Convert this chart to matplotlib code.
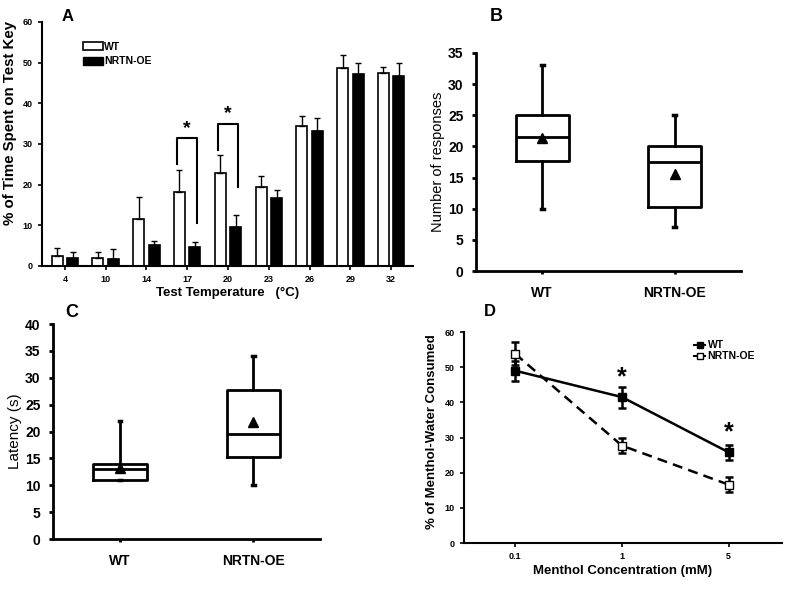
"""Four-panel figure: temperature preference, response counts, latency and menthol intake."""

import matplotlib

matplotlib.use("Agg")
import matplotlib.pyplot as plt
import numpy as np
from matplotlib.lines import Line2D
from matplotlib.patches import Patch

plt.rcParams["font.family"] = ["Liberation Sans", "DejaVu Sans"]

# Panel A: time spent on test key
temps = ["4", "10", "14", "17", "20", "23", "26", "29", "32"]
wt_time = [2.5, 2.0, 11.5, 18.2, 22.9, 19.4, 34.4, 48.8, 47.4]
wt_time_err = [1.9, 1.5, 5.5, 5.3, 4.3, 2.8, 2.6, 3.2, 1.6]
oe_time = [1.9, 1.6, 5.1, 4.6, 9.5, 16.8, 33.3, 47.3, 46.6]
oe_time_err = [1.5, 2.5, 1.0, 1.2, 3.0, 2.0, 3.0, 2.7, 3.4]
sig_groups = [3, 4]
sig_left = [25.0, 28.5]
sig_top = [31.4, 35.0]
sig_right = [10.6, 19.4]

# Panels B and C: box summaries
groups = ["WT", "NRTN-OE"]
resp_low = [10, 7]
resp_q1 = [17.7, 10.2]
resp_med = [21.5, 17.5]
resp_q3 = [25, 20]
resp_high = [33, 25]
resp_mean = [21.4, 15.5]

lat_low = [11, 10]
lat_q1 = [11, 15.2]
lat_med = [13, 19.5]
lat_q3 = [14, 27.8]
lat_high = [22, 34]
lat_mean = [13.3, 21.7]

# Panel D: menthol water
conc = ["0.1", "1", "5"]
wt_menthol = [49.0, 41.5, 25.8]
wt_menthol_err = [2.8, 3.0, 2.2]
oe_menthol = [53.8, 27.7, 16.6]
oe_menthol_err = [3.3, 2.2, 2.2]
menthol_sig = [1, 2]
menthol_sig_y = [47.0, 31.5]


def style_axis(ax, lw):
    for side in ("top", "right"):
        ax.spines[side].set_visible(False)
    for side in ("left", "bottom"):
        ax.spines[side].set_linewidth(lw)
        ax.spines[side].set_color("black")


def box_panel(ax, low, q1, med, q3, high, mean, ylabel, ymax, label_size):
    stats = []
    for i, name in enumerate(groups):
        stats.append({"whislo": low[i], "q1": q1[i], "med": med[i], "q3": q3[i],
                      "whishi": high[i], "label": name})
    lw = 2.0
    ax.bxp(stats, positions=[1, 2], widths=0.4, showfliers=False, capwidths=0.02,
           boxprops={"linewidth": lw}, medianprops={"linewidth": lw, "color": "black"},
           whiskerprops={"linewidth": lw}, capprops={"linewidth": 2.5})
    ax.plot([1, 2], mean, linestyle="none", marker="^", color="black", markersize=7)
    ax.set_xlim(0.5, 2.5)
    ax.set_ylim(0, ymax)
    ax.set_yticks(np.arange(0, ymax + 1, 5))
    style_axis(ax, lw)
    ax.tick_params(axis="y", labelsize=10, width=lw, length=3, pad=6)
    ax.tick_params(axis="x", labelsize=10, width=lw, length=2, pad=9)
    for lab in ax.get_xticklabels() + ax.get_yticklabels():
        lab.set_fontweight("bold")
    ax.set_ylabel(ylabel, fontsize=label_size, labelpad=2)


fig = plt.figure(figsize=(8, 5.96), dpi=100)

# ---- A ----
ax_a = fig.add_axes([0.0525, 0.5537, 0.464, 0.4094])
x = np.arange(len(temps))
bw = 0.27
off = 0.19
ax_a.bar(x - off, wt_time, bw, color="white", edgecolor="black", linewidth=1.2)
ax_a.bar(x + off, oe_time, bw, color="black", edgecolor="black", linewidth=1.2)
ax_a.errorbar(x - off, wt_time, yerr=[np.zeros(len(x)), wt_time_err], fmt="none",
              ecolor="black", elinewidth=1.0, capsize=2.5, capthick=1.0)
ax_a.errorbar(x + off, oe_time, yerr=[np.zeros(len(x)), oe_time_err], fmt="none",
              ecolor="black", elinewidth=1.0, capsize=2.5, capthick=1.0)
for g, yl, yt, yr in zip(sig_groups, sig_left, sig_top, sig_right):
    ax_a.plot([g - 0.24, g - 0.24, g + 0.24, g + 0.24], [yl, yt, yt, yr],
              color="black", linewidth=1.5)
    ax_a.text(g, yt + 0.3, "*", ha="center", va="bottom", fontsize=14, fontweight="bold")
ax_a.set_xlim(-0.56, 8.54)
ax_a.set_ylim(0, 60)
ax_a.set_yticks(np.arange(0, 61, 10))
ax_a.set_xticks(x)
ax_a.set_xticklabels(temps)
style_axis(ax_a, 1.5)
ax_a.tick_params(labelsize=6.5, width=1.2, length=3)
for lab in ax_a.get_xticklabels() + ax_a.get_yticklabels():
    lab.set_fontweight("bold")
ax_a.set_xlabel("Test Temperature   (°C)", fontsize=9.5, fontweight="bold", labelpad=2)
ax_a.set_ylabel("% of Time Spent on Test Key", fontsize=10.8, fontweight="bold")
ax_a.yaxis.set_label_coords(-0.068, 0.585)
ax_a.legend(handles=[Patch(facecolor="white", edgecolor="black", linewidth=1.2, label="WT"),
                     Patch(facecolor="black", edgecolor="black", label="NRTN-OE")],
            loc="upper left", bbox_to_anchor=(0.098, 0.935), frameon=False,
            prop={"size": 7.5, "weight": "bold"}, handlelength=2.0, handleheight=0.8,
            handletextpad=0.1, labelspacing=0.4, borderaxespad=0)
fig.text(0.084, 0.972, "A", fontsize=12, fontweight="bold", va="center", ha="center")

# ---- B ----
ax_b = fig.add_axes([0.595, 0.5453, 0.331, 0.3658])
box_panel(ax_b, resp_low, resp_q1, resp_med, resp_q3, resp_high, resp_mean,
          "Number of responses", 35, 10.5)
fig.text(0.62, 0.972, "B", fontsize=13, fontweight="bold", va="center", ha="center")

# ---- C ----
ax_c = fig.add_axes([0.0663, 0.0956, 0.334, 0.3607])
box_panel(ax_c, lat_low, lat_q1, lat_med, lat_q3, lat_high, lat_mean, "Latency (s)", 40, 11)
fig.text(0.09, 0.475, "C", fontsize=13, fontweight="bold", va="center", ha="center")

# ---- D ----
ax_d = fig.add_axes([0.58, 0.0889, 0.3975, 0.354])
xd = np.arange(len(conc))
ax_d.errorbar(xd, wt_menthol, yerr=wt_menthol_err, color="black", linewidth=1.8,
              marker="s", markersize=6, markerfacecolor="black", capsize=3,
              elinewidth=1.8, capthick=1.8)
ax_d.errorbar(xd, oe_menthol, yerr=oe_menthol_err, color="black", linewidth=1.8,
              linestyle=(0, (4, 2.5)), marker="s", markersize=6, markerfacecolor="white",
              capsize=3, elinewidth=1.8, capthick=1.8)
for g, yy in zip(menthol_sig, menthol_sig_y):
    ax_d.text(g, yy, "*", ha="center", va="center", fontsize=18, fontweight="bold")
ax_d.set_xlim(-0.48, 2.5)
ax_d.set_ylim(0, 60)
ax_d.set_yticks(np.arange(0, 61, 10))
ax_d.set_xticks(xd)
ax_d.set_xticklabels(conc)
style_axis(ax_d, 1.5)
ax_d.tick_params(labelsize=6.5, width=1.2, length=3)
for lab in ax_d.get_xticklabels() + ax_d.get_yticklabels():
    lab.set_fontweight("bold")
ax_d.set_xlabel("Menthol Concentration (mM)", fontsize=9.5, fontweight="bold", labelpad=3)
ax_d.set_ylabel("% of Menthol-Water Consumed", fontsize=9.5, fontweight="bold")
ax_d.yaxis.set_label_coords(-0.083, 0.53)
handles_d = [
    Line2D([], [], color="black", linewidth=1.5, marker="s", markersize=5,
           markerfacecolor="black", label="WT"),
    Line2D([], [], color="black", linewidth=1.5, marker="s", markersize=5,
           markerfacecolor="white", label="NRTN-OE"),
]
ax_d.legend(handles=handles_d, loc="upper left", bbox_to_anchor=(0.71, 0.98),
            frameon=False, prop={"size": 7.5, "weight": "bold"}, handlelength=1.1,
            handletextpad=0.2, labelspacing=0.1, borderaxespad=0)
fig.text(0.6125, 0.478, "D", fontsize=12, fontweight="bold", va="center", ha="center")

fig.savefig("out.png", dpi=100)
